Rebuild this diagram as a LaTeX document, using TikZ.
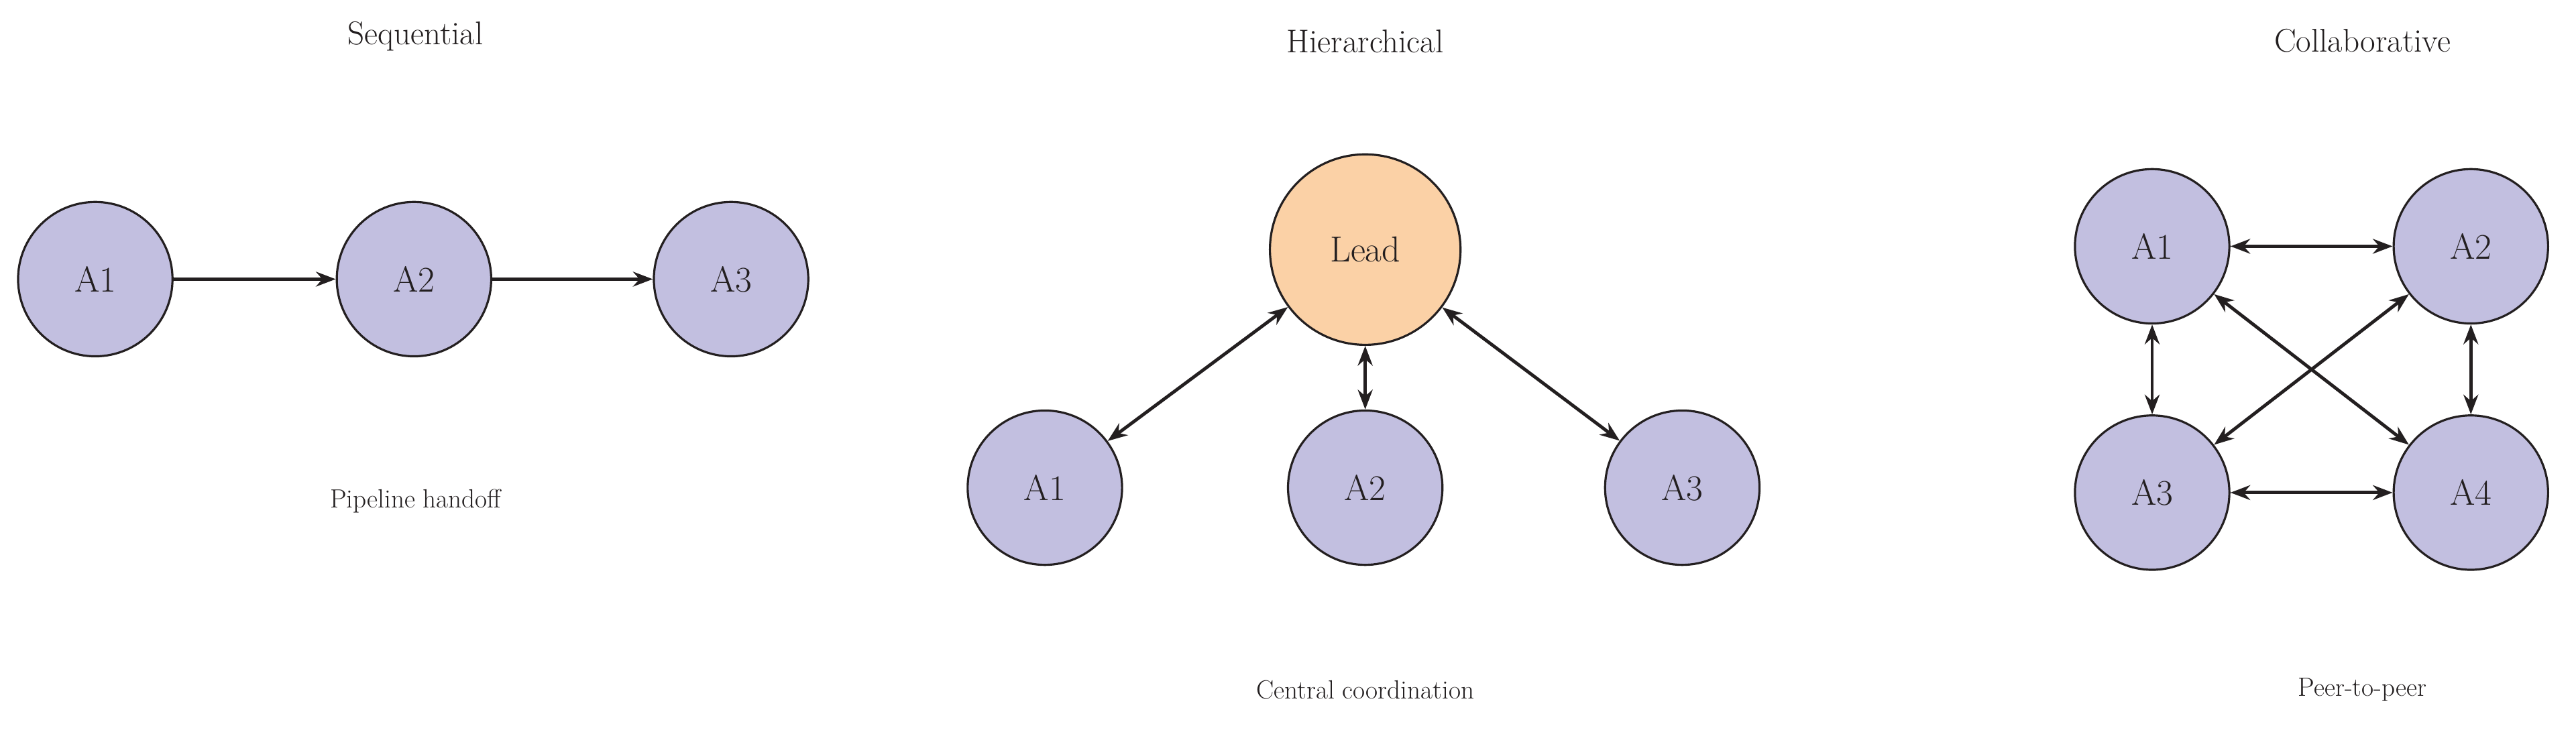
\documentclass[tikz,border=0pt]{standalone}
\usepackage{mathpazo}
\usetikzlibrary{arrows.meta}
\definecolor{ag}{HTML}{C2BFE0}
\definecolor{ld}{HTML}{FBD1A6}
\definecolor{ink}{HTML}{231F20}
\begin{document}
\begin{tikzpicture}[x=1pt,y=-1pt,
  agent/.style={circle,draw=ink,line width=1.3pt,fill=ag,minimum size=94pt,inner sep=0pt,font=\fontsize{22}{26}\selectfont\bfseries,text=ink},
  lead/.style={agent,fill=ld,minimum size=116pt},
  title/.style={font=\fontsize{20}{24}\selectfont\bfseries,text=ink},
  caption/.style={font=\fontsize{16}{19}\selectfont,text=ink},
  con/.style={draw=ink,line width=2pt,-{Stealth[length=12pt,width=9pt]}},
  bi/.style={con,{Stealth[length=12pt,width=9pt]}-{Stealth[length=12pt,width=9pt]}}]
\useasboundingbox (0,0) rectangle (1568,447);
% Sequential
\node[title] (t1) at (253,22) {Sequential};
\node[agent] (s1) at (58,170) {A1};
\node[agent] (s2) at (252,170) {A2};
\node[agent] (s3) at (445,170) {A3};
\node[caption] (c1) at (253,305) {Pipeline handoff};
\draw[con] (s1) -- (s2);
\draw[con] (s2) -- (s3);
% Hierarchical
\node[title] (t2) at (831,25) {Hierarchical};
\node[lead] (L) at (831,152) {Lead};
\node[agent] (h1) at (636,297) {A1};
\node[agent] (h2) at (831,297) {A2};
\node[agent] (h3) at (1024,297) {A3};
\node[caption] (c2) at (831,420) {Central coordination};
\draw[bi] (L) -- (h1);
\draw[bi] (L) -- (h2);
\draw[bi] (L) -- (h3);
% Collaborative
\node[title] (t3) at (1438,25) {Collaborative};
\node[agent] (p1) at (1310,150) {A1};
\node[agent] (p2) at (1504,150) {A2};
\node[agent] (p3) at (1310,300) {A3};
\node[agent] (p4) at (1504,300) {A4};
\node[caption] (c3) at (1438,420) {Peer-to-peer};
\draw[bi] (p1) -- (p2);
\draw[bi] (p3) -- (p4);
\draw[bi] (p1) -- (p3);
\draw[bi] (p2) -- (p4);
\draw[bi] (p1) -- (p4);
\draw[bi] (p2) -- (p3);
\end{tikzpicture}
\end{document}
